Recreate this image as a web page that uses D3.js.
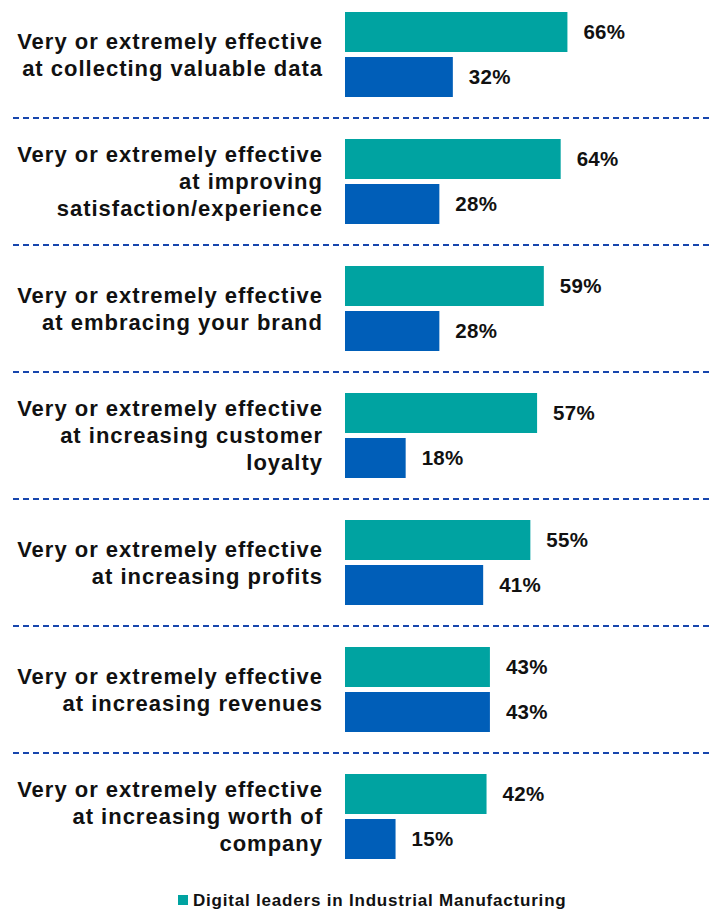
<!DOCTYPE html>
<html>
<head>
<meta charset="utf-8">
<script src="https://cdnjs.cloudflare.com/ajax/libs/d3/7.8.5/d3.min.js"></script>
<style>
  body { margin: 0; background: #fff; }
  svg text { font-family: "Liberation Sans", Arial, sans-serif; font-weight: bold; fill: #111; }
</style>
</head>
<body>
<svg id="chart" width="711" height="910"></svg>
<script>
  // data
  var categories = [
    ["Very or extremely effective", "at collecting valuable data"],
    ["Very or extremely effective", "at improving", "satisfaction/experience"],
    ["Very or extremely effective", "at embracing your brand"],
    ["Very or extremely effective", "at increasing customer", "loyalty"],
    ["Very or extremely effective", "at increasing profits"],
    ["Very or extremely effective", "at increasing revenues"],
    ["Very or extremely effective", "at increasing worth of", "company"]
  ];
  var leaders = [66, 64, 59, 57, 55, 43, 42];
  var others = [32, 28, 28, 18, 41, 43, 15];
  var legendLabels = ["Digital leaders in Industrial Manufacturing"];

  // parameters
  var teal = "#00a3a1";
  var blue = "#005eb8";
  var dashColor = "#1746ad";
  var groupTop = 12;
  var groupStep = 127;
  var barH = 40;
  var barGap = 5;
  var lineH = 27;

  var svg = d3.select("#chart");

  var x = d3.scaleLinear().domain([0, 100]).range([345, 682]);
  var y = d3.scaleLinear().domain([0, 1]).range([groupTop, groupTop + groupStep]);

  var groups = svg.selectAll("g.group")
    .data(categories.map(function(c, i){
      return { lines: c, vals: [leaders[i], others[i]], i: i };
    }))
    .enter().append("g")
    .attr("class", "group")
    .attr("transform", function(d){ return "translate(0," + y(d.i) + ")"; });

  // bars
  groups.selectAll("rect")
    .data(function(d){ return d.vals; })
    .enter().append("rect")
    .attr("x", x(0))
    .attr("y", function(d, j){ return j * (barH + barGap); })
    .attr("width", function(d){ return x(d) - x(0); })
    .attr("height", barH)
    .attr("fill", function(d, j){ return j === 0 ? teal : blue; });

  // value labels
  groups.selectAll("text.val")
    .data(function(d){ return d.vals; })
    .enter().append("text")
    .attr("class", "val")
    .attr("x", function(d){ return x(d) + 16; })
    .attr("y", function(d, j){ return j * (barH + barGap) + barH / 2; })
    .attr("dy", "0.36em")
    .style("font-size", "20.5px")
    .style("letter-spacing", "0.3px")
    .text(function(d){ return d + "%"; });

  // category labels
  var center = barH + barGap / 2;
  groups.append("text")
    .attr("class", "cat")
    .attr("text-anchor", "end")
    .style("font-size", "22px")
    .style("letter-spacing", "1px")
    .each(function(d){
      var n = d.lines.length;
      var t = d3.select(this);
      d.lines.forEach(function(line, k){
        t.append("tspan")
          .attr("x", 323)
          .attr("y", center + (k - (n - 1) / 2) * lineH)
          .attr("dy", "0.36em")
          .text(line);
      });
    });

  // dashed separators
  svg.selectAll("line.sep")
    .data(d3.range(categories.length - 1))
    .enter().append("line")
    .attr("class", "sep")
    .attr("x1", 13)
    .attr("x2", 711)
    .attr("y1", function(i){ return y(i) + 106; })
    .attr("y2", function(i){ return y(i) + 106; })
    .attr("stroke", dashColor)
    .attr("stroke-width", 1.8)
    .attr("stroke-dasharray", "6,4");

  // legend
  var legend = svg.append("g").attr("transform", "translate(178,895)");
  legend.append("rect")
    .attr("width", 10).attr("height", 10)
    .attr("fill", teal);
  legend.append("text")
    .attr("x", 15)
    .attr("y", 10.5)
    .style("font-size", "17px")
    .style("letter-spacing", "0.8px")
    .text(legendLabels[0]);
</script>
</body>
</html>
